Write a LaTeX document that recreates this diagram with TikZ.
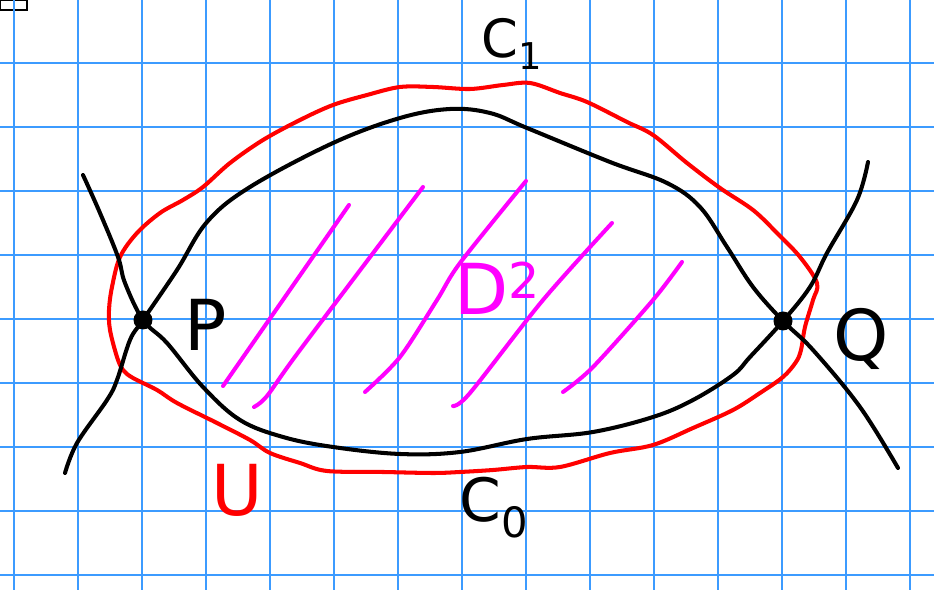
\documentclass[tikz,border=0pt]{standalone}
\usepackage{fontspec}
\setmainfont{DejaVu Sans}
\usepackage{xcolor}
\definecolor{gridblue}{RGB}{60,155,255}
\definecolor{hatchpink}{RGB}{255,0,255}
\usetikzlibrary{positioning}

\begin{document}
\begin{tikzpicture}[
  x=0.02cm, y=-0.02cm,
  gline/.style ={draw=gridblue,line width=1.6pt},
  curve/.style ={draw=black,line width=2.3pt,line cap=round,line join=round},
  ucurve/.style={draw=red,line width=2.3pt,line join=round},
  hatch/.style ={draw=hatchpink,line width=2.3pt,line cap=round},
  dot/.style   ={circle,fill=black,inner sep=0pt,minimum size=0.38cm},
  lbl/.style   ={font=\fontsize{40}{42}\selectfont,inner sep=0pt}
]
\useasboundingbox (0,0) rectangle (934,590);
\draw[black,line width=0.8pt] (0,0) rectangle (27,10);
% squared paper
\foreach \gx in {14,78,...,910}
  \draw[gline] (\gx,0) -- (\gx,590);
\foreach \gy in {63,127,...,575}
  \draw[gline] (0,\gy) -- (934,\gy);

\coordinate (P) at (143,320);
\coordinate (Q) at (783,321);

% the neighbourhood U
\draw[ucurve] plot[smooth cycle,tension=0.55] coordinates {
  (109,310) (112,287) (120,257) (137,233) (160,213) (183,200) (203,187)
  (230,163) (263,140) (300,120) (333,105) (367,95) (400,87) (433,87)
  (470,89) (503,85) (530,83) (560,93) (587,102) (627,122) (653,135)
  (687,163) (720,188) (753,210) (777,233) (800,257) (817,283) (813,300)
  (805,327) (801,350) (796,362) (783,377) (760,393) (733,410) (693,428)
  (653,445) (610,453) (560,467) (527,467) (493,470) (460,472) (433,473)
  (383,472) (327,471) (300,463) (270,453) (250,440) (217,423) (177,403)
  (157,390) (133,378) (123,370) (117,357) (110,330)};

% C_1 (upper arc)
\draw[curve] plot[smooth,tension=0.6] coordinates {
  (65,473) (77,443) (107,400) (117,380) (130,340) (P) (177,270) (207,222)
  (250,187) (333,143) (400,118) (450,109) (490,113) (527,128) (610,162)
  (667,183) (700,207) (727,247) (753,287) (Q) (813,350) (860,407) (898,468)};
% C_0 (lower arc)
\draw[curve] plot[smooth,tension=0.6] coordinates {
  (83,175) (100,213) (118,257) (125,283) (P) (167,343) (203,387) (240,420)
  (283,437) (333,447) (400,454) (460,452) (527,439) (593,432) (653,417)
  (693,400) (733,375) (750,357) (Q) (810,287) (827,253) (857,200) (868,162)};

% hatching of D^2
\draw[hatch] (223,386) -- (349,205);
\draw[hatch] plot[smooth] coordinates {(254,407) (267,396) (300,350) (423,187)};
\draw[hatch] plot[smooth] coordinates {(365,392) (400,357) (437,300) (460,263) (526,181)};
\draw[hatch] plot[smooth] coordinates {(453,406) (470,393) (543,300) (612,223)};
\draw[hatch] plot[smooth] coordinates {(563,392) (593,367) (653,300) (682,262)};

\node[dot] (p) at (P) {};
\node[dot] (q) at (Q) {};
\node[lbl,right=0.62cm of p,yshift=-0.1cm] (plbl) {P};
\node[lbl,right=0.8cm of q,yshift=-0.36cm] (qlbl) {Q};
\node[lbl,font=\fontsize{30}{32}\selectfont] (cone) at (512,44) {C\textsubscript{1}};
\node[lbl,font=\fontsize{34}{36}\selectfont] (czero) at (494,508) {C\textsubscript{0}};
\node[lbl,text=red] (ulbl) at (237,490) {U};
\node[lbl,text=hatchpink] (dlbl) at (498,288) {D\textsuperscript{2}};
\end{tikzpicture}
\end{document}
